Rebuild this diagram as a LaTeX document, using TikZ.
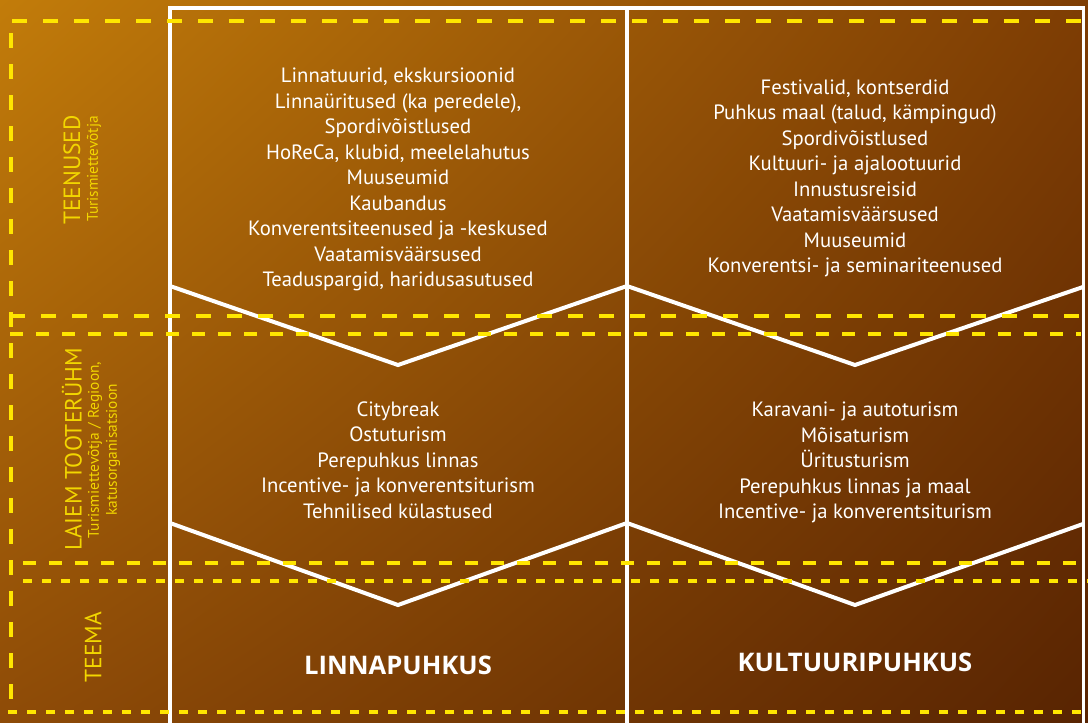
\documentclass[tikz,border=0pt]{standalone}
\usepackage{fontspec}
\setmainfont{PT Sans}
\newfontfamily\themefont{Open Sans}
\usetikzlibrary{shadings}
\definecolor{bgA}{HTML}{C27C0A}
\definecolor{bgB}{HTML}{7E3D04}
\definecolor{bgC}{HTML}{8E4B07}
\definecolor{bgD}{HTML}{582402}
\definecolor{dashyellow}{HTML}{FFE600}
\definecolor{labelyellow}{HTML}{F2D600}
\begin{document}
\begin{tikzpicture}[x=1pt,y=-1pt,
  frame/.style={draw=white, line width=4pt, line join=miter},
  dashA/.style={draw=dashyellow, line width=4pt, dash pattern=on 15pt off 16pt},
  dashB/.style={draw=dashyellow, line width=4pt, dash pattern=on 13pt off 13pt},
  dashC/.style={draw=dashyellow, line width=4pt, dash pattern=on 9pt off 10pt},
  celltext/.style={text=white, align=center, inner sep=0pt,
    font=\fontsize{20.7}{25.5}\selectfont},
  themetext/.style={text=white, inner sep=0pt,
    font=\themefont\fontsize{25.6}{25.6}\selectfont\bfseries},
  rowtitle/.style={text=labelyellow, inner sep=0pt, rotate=90,
    font=\fontsize{23.5}{23.5}\selectfont},
  rowsub/.style={text=labelyellow, inner sep=0pt, rotate=90, align=center,
    font=\fontsize{15.4}{18}\selectfont},
]
\useasboundingbox (0,0) rectangle (1088,723);
% background
\shade[upper left=bgA, upper right=bgB, lower left=bgC, lower right=bgD]
  (0,0) rectangle (1088,723);

% white column frame
\coordinate (tl) at (170,8);
\coordinate (tm) at (627,8);
\coordinate (tr) at (1083,8);
\draw[frame] (170,730) -- (tl) -- (tr);
\draw[frame] (tm) -- (627,730);
\draw[draw=white, line width=3pt] (1083,6) -- (1083,730);

% chevrons between the rows
\coordinate (a0) at (170,286);
\coordinate (a1) at (398,365);
\coordinate (a2) at (627,286);
\coordinate (a3) at (855,365);
\coordinate (a4) at (1083,287);
\draw[frame] (a0) -- (a1) -- (a2) -- (a3) -- (a4);
\coordinate (b0) at (170,523);
\coordinate (b1) at (398,605);
\coordinate (b2) at (627,523);
\coordinate (b3) at (855,605);
\coordinate (b4) at (1083,524);
\draw[frame] (b0) -- (b1) -- (b2) -- (b3) -- (b4);

% dashed row bands
\draw[dashA] (12,21) -- (1090,21);
\draw[dashA] (11,33) -- (11,712);
\draw[dashA] (10,316) -- (1090,316);
\draw[dashB] (10,334) -- (1081,334);
\draw[dashB] (23,563) -- (1090,563);
\draw[dashC] (23,581) -- (1090,581);
\draw[dashC] (8,712) -- (1090,712);

% row titles
\node[rowtitle] (t1) at (72,170) {TEENUSED};
\node[rowsub] (s1) at (94,169) {Turismiettevõtja};
\node[rowtitle] (t2) at (72,449) {LAIEM TOOTERÜHM};
\node[rowsub] (s2) at (104,450) {Turismiettevõtja / Regioon,\\katusorganisatsioon};
\node[rowtitle] (t3) at (93,647) {TEEMA};

% services
\node[celltext] (srv1) at (398,179.5) {Linnatuurid, ekskursioonid\\
  Linnaüritused (ka peredele),\\
  Spordivõistlused\\
  HoReCa, klubid, meelelahutus\\
  Muuseumid\\
  Kaubandus\\
  Konverentsiteenused ja -keskused\\
  Vaatamisväärsused\\
  Teaduspargid, haridusasutused};
\node[celltext] (srv2) at (855,178.5) {Festivalid, kontserdid\\
  Puhkus maal (talud, kämpingud)\\
  Spordivõistlused\\
  Kultuuri- ja ajalootuurid\\
  Innustusreisid\\
  Vaatamisväärsused\\
  Muuseumid\\
  Konverentsi- ja seminariteenused};

% product groups
\node[celltext] (grp1) at (398,460) {Citybreak\\
  Ostuturism\\
  Perepuhkus linnas\\
  Incentive- ja konverentsiturism\\
  Tehnilised külastused};
\node[celltext] (grp2) at (855,462.5) {Karavani- ja autoturism\\
  Mõisaturism\\
  Üritusturism\\
  Perepuhkus linnas ja maal\\
  Incentive- ja konverentsiturism};

% themes
\node[themetext] (th1) at (398,665) {LINNAPUHKUS};
\node[themetext] (th2) at (855,662) {KULTUURIPUHKUS};
\end{tikzpicture}
\end{document}
